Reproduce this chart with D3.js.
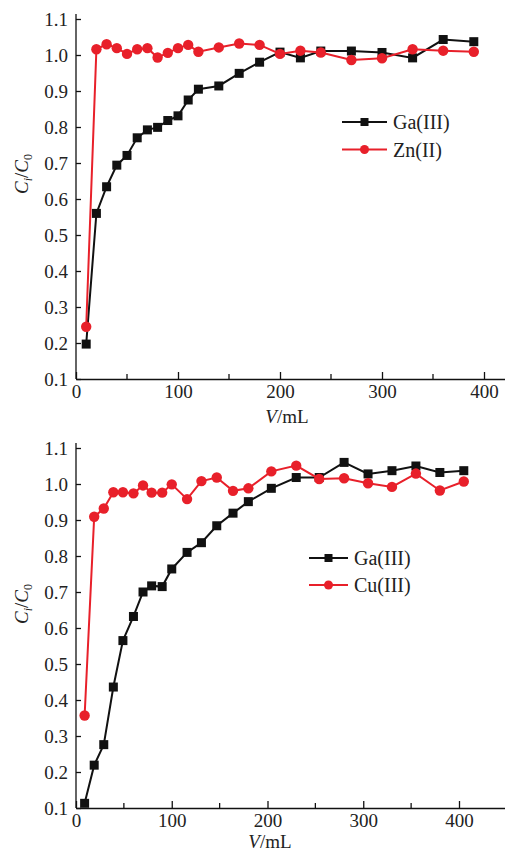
<!DOCTYPE html>
<html><head><meta charset="utf-8">
<script src="https://cdn.jsdelivr.net/npm/d3@7"></script>
<style>body{margin:0;background:#fff}svg{display:block}</style>
</head><body>
<script>
// Top panel data
const topX = [10,20,30,40,50,60,70,80,90,100,110,120,140,160,180,200,220,240,270,300,330,360,390];
const topGa = [0.197,0.560,0.634,0.694,0.721,0.770,0.792,0.799,0.818,0.831,0.875,0.905,0.914,0.949,0.980,1.008,0.992,1.011,1.011,1.007,0.992,1.043,1.037];
const topZn = [0.245,1.016,1.030,1.019,1.003,1.016,1.019,0.993,1.006,1.019,1.028,1.009,1.021,1.032,1.028,1.003,1.012,1.007,0.986,0.991,1.016,1.012,1.009];
// Bottom panel data
const botX = [9,19,29,39,49,60,70,79,90,100,116,131,147,164,180,204,230,254,280,305,330,355,380,405];
const botGa = [0.113,0.219,0.276,0.436,0.565,0.632,0.700,0.717,0.715,0.764,0.810,0.837,0.884,0.919,0.951,0.988,1.018,1.018,1.060,1.028,1.037,1.050,1.032,1.037];
const botCu = [0.357,0.909,0.932,0.977,0.977,0.974,0.996,0.976,0.976,0.999,0.958,1.008,1.018,0.981,0.988,1.035,1.051,1.014,1.016,1.002,0.992,1.029,0.982,1.007];
const yTicks = [0.1,0.2,0.3,0.4,0.5,0.6,0.7,0.8,0.9,1.0,1.1];
const xMajor = [0,100,200,300,400];
const xMinor = [50,150,250,350];
const topLegend = ["Ga(III)","Zn(II)"];
const botLegend = ["Ga(III)","Cu(III)"];

const W=505,H=854;
const RED="#e8202a", BLK="#111";
const FONT="'Liberation Serif','DejaVu Serif',serif";
const svg=d3.select("body").append("svg").attr("width",W).attr("height",H);

function panel(cfg){
  const g=svg.append("g");
  const x=d3.scaleLinear().domain([0,cfg.xmax]).range([cfg.left,W]);
  const y=d3.scaleLinear().domain([0.1,1.1]).range([cfg.bottom,cfg.bottom-360]);
  // y axis
  const ya=g.append("g").attr("transform",`translate(${cfg.left},0)`)
    .call(d3.axisLeft(y).tickValues(yTicks).tickSizeInner(-5).tickSizeOuter(0).tickPadding(8).tickFormat(d3.format(".1f")));
  ya.select(".domain").attr("d",`M0,${y(0.1)}V${y(1.1)-5}`);
  // x axis
  const xa=g.append("g").attr("transform",`translate(0,${cfg.bottom})`)
    .call(d3.axisBottom(x).tickValues(xMajor).tickSizeInner(-7).tickSizeOuter(0).tickPadding(6).tickFormat(d3.format("d")));
  g.append("g").selectAll("line").data(xMinor).join("line")
    .attr("x1",d=>x(d)).attr("x2",d=>x(d)).attr("y1",cfg.bottom).attr("y2",cfg.bottom-5)
    .attr("stroke",BLK).attr("stroke-width",1.3);
  [ya,xa].forEach(a=>{
    a.selectAll("path,line").attr("stroke",BLK).attr("stroke-width",1.3);
    a.selectAll("text").attr("font-family",FONT).attr("font-size",19).attr("fill","#222");
  });
  ya.selectAll(".tick line").attr("x2",5);
  // titles
  const xt=g.append("text").attr("x",cfg.xtx).attr("y",cfg.bottom+cfg.xtdy).attr("text-anchor","middle")
    .attr("font-family",FONT).attr("font-size",19).attr("fill","#222");
  xt.append("tspan").attr("font-style","italic").text("V");
  xt.append("tspan").text("/mL");
  const yt=g.append("text").attr("transform",`translate(28,${cfg.ytc}) rotate(-90)`).attr("text-anchor","middle")
    .attr("font-family",FONT).attr("font-size",19).attr("fill","#222");
  yt.append("tspan").attr("font-style","italic").text("C");
  yt.append("tspan").attr("font-style","italic").attr("font-size",12).attr("dy",4).text("i");
  yt.append("tspan").attr("dy",-4).text("/");
  yt.append("tspan").attr("font-style","italic").text("C");
  yt.append("tspan").attr("font-size",12).attr("dy",4).text("0");

  const line=d3.line().x(d=>x(d[0])).y(d=>y(d[1]));
  cfg.series.forEach(s=>{
    const pts=cfg.xs.map((v,i)=>[v,s.vals[i]]);
    g.append("path").datum(pts).attr("d",line).attr("fill","none").attr("stroke",s.color).attr("stroke-width",2);
    if(s.shape==="sq"){
      g.append("g").selectAll("rect").data(pts).join("rect")
        .attr("x",d=>x(d[0])-4.5).attr("y",d=>y(d[1])-4.5).attr("width",9).attr("height",9).attr("fill",s.color);
    } else {
      g.append("g").selectAll("circle").data(pts).join("circle")
        .attr("cx",d=>x(d[0])).attr("cy",d=>y(d[1])).attr("r",5.2).attr("fill",s.color);
    }
  });
  // legend
  cfg.series.forEach((s,i)=>{
    const ly=cfg.legY+i*cfg.legDy;
    g.append("line").attr("x1",cfg.legX).attr("x2",cfg.legX+cfg.legW).attr("y1",ly).attr("y2",ly)
      .attr("stroke",s.color).attr("stroke-width",2);
    const cx=cfg.legX+cfg.legW/2;
    if(s.shape==="sq") g.append("rect").attr("x",cx-4).attr("y",ly-4).attr("width",8).attr("height",8).attr("fill",s.color);
    else g.append("circle").attr("cx",cx).attr("cy",ly).attr("r",4.5).attr("fill",s.color);
    g.append("text").attr("x",cfg.legX+cfg.legW+6).attr("y",ly+7).attr("font-family",FONT).attr("font-size",20)
      .attr("fill","#222").text(cfg.legend[i]);
  });
}

panel({left:76,bottom:379,xmax:(W-76)/1.02,xs:topX,xtx:287,xtdy:44,ytc:174,
  series:[{vals:topGa,color:BLK,shape:"sq"},{vals:topZn,color:RED,shape:"ci"}],
  legend:topLegend,legX:342,legW:45,legY:122,legDy:27.5});
panel({left:76,bottom:808,xmax:(W-76)/0.9575,xs:botX,xtx:270,xtdy:40,ytc:604,
  series:[{vals:botGa,color:BLK,shape:"sq"},{vals:botCu,color:RED,shape:"ci"}],
  legend:botLegend,legX:309,legW:39,legY:558,legDy:27});
</script>
</body></html>
